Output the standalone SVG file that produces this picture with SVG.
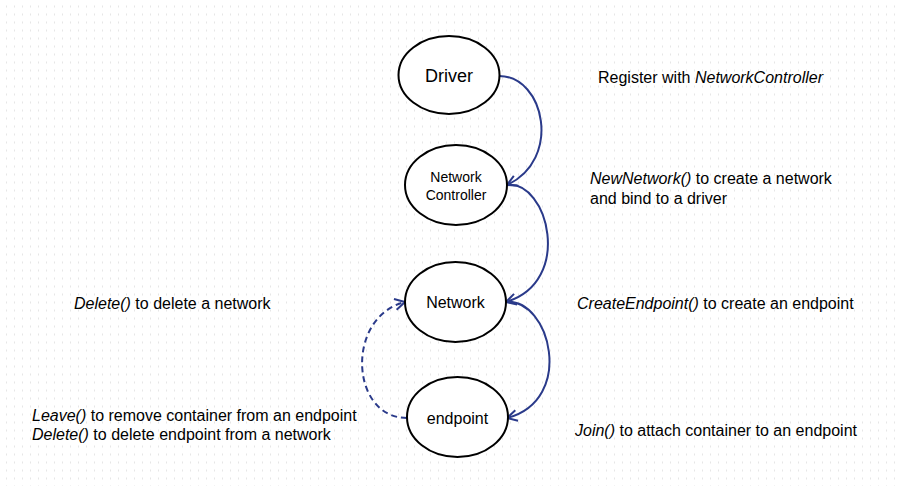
<svg xmlns="http://www.w3.org/2000/svg" width="901" height="486" viewBox="0 0 901 486">
<style>
.node{fill:#ffffff;stroke:#000000;stroke-width:2}
.lbl{font-family:"Liberation Sans",Arial,sans-serif;fill:#000000}
.t{font-family:"Liberation Sans",Arial,sans-serif;font-size:16px;fill:#000000}
.i{font-style:italic}
.edge{fill:none;stroke:#2a3a8a;stroke-width:2}
.dash{stroke-dasharray:6 4}
</style>
<defs>
<pattern id="grid" x="0" y="0" width="8" height="8" patternUnits="userSpaceOnUse">
<rect x="6" y="5.5" width="1" height="2" fill="#e6e6e6"/>
</pattern>
<marker id="arr" markerUnits="userSpaceOnUse" markerWidth="14" markerHeight="14" viewBox="0 0 14 14" refX="12" refY="7" orient="auto">
<path d="M2,1.5 L12,7 L2,12.5" fill="none" stroke="#2a3a8a" stroke-width="2"/>
</marker>
</defs>
<rect width="901" height="486" fill="#ffffff"/>
<rect width="901" height="486" fill="url(#grid)"/>
<g id="connectors">
<path class="edge" d="M499,76 C545,76 562,160 507,185" marker-end="url(#arr)"/>
<path class="edge" d="M507,185 C548,180 574,282 506,302" marker-end="url(#arr)"/>
<path class="edge" d="M506,302 C550,298 576,400 507,418" marker-end="url(#arr)"/>
<path class="edge dash" d="M407,418 C350,418 345,317 405,302" marker-end="url(#arr)"/>
</g>
<g id="driver">
<ellipse class="node" cx="449" cy="75" rx="50.5" ry="39"/>
<text class="lbl" x="449" y="82" font-size="18" text-anchor="middle">Driver</text>
</g>
<g id="network-controller">
<ellipse class="node" cx="456" cy="185" rx="51" ry="40"/>
<text class="lbl" x="456" y="182" font-size="14" text-anchor="middle">Network</text>
<text class="lbl" x="456" y="199.5" font-size="14" text-anchor="middle">Controller</text>
</g>
<g id="network">
<ellipse class="node" cx="455.5" cy="302" rx="50.5" ry="40"/>
<text class="lbl" x="455.5" y="308" font-size="16" text-anchor="middle">Network</text>
</g>
<g id="endpoint">
<ellipse class="node" cx="457.5" cy="417" rx="50.5" ry="40"/>
<text class="lbl" x="457.5" y="424" font-size="16" text-anchor="middle">endpoint</text>
</g>
<g id="labels">
<text class="t" x="598" y="83">Register with <tspan class="i">NetworkController</tspan></text>
<text class="t" x="590" y="184"><tspan class="i">NewNetwork()</tspan> to create a network</text>
<text class="t" x="590" y="204">and bind to a driver</text>
<text class="t" x="577" y="309"><tspan class="i">CreateEndpoint()</tspan> to create an endpoint</text>
<text class="t" x="575" y="436"><tspan class="i">Join()</tspan> to attach container to an endpoint</text>
<text class="t" x="74" y="309"><tspan class="i">Delete()</tspan> to delete a network</text>
<text class="t" x="32" y="421"><tspan class="i">Leave()</tspan> to remove container from an endpoint</text>
<text class="t" x="32" y="440"><tspan class="i">Delete()</tspan> to delete endpoint from a network</text>
</g>
</svg>
